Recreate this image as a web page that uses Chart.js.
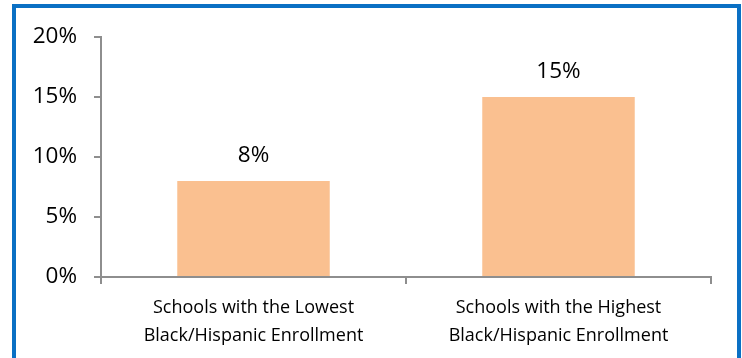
<!DOCTYPE html>
<html>
<head>
<meta charset="utf-8">
<script src="https://cdn.jsdelivr.net/npm/chart.js@4/dist/chart.umd.min.js"></script>
<style>
  html, body { margin: 0; padding: 0; background: #fff; }
  #wrap { position: relative; width: 742px; height: 358px; overflow: hidden; }
  #frame { position: absolute; left: 12px; top: 4px; width: 721px; height: 400px; border: 4px solid #0A70C4; box-sizing: content-box; }
  canvas { position: absolute; left: 0; top: 0; }
</style>
</head>
<body>
<div id="wrap">
  <div id="frame"></div>
  <canvas id="myChart" width="742" height="358"></canvas>
</div>
<script>
const categories = [
  ["Schools with the Lowest", "Black/Hispanic Enrollment"],
  ["Schools with the Highest", "Black/Hispanic Enrollment"]
];
const values = [8, 15];
const yTicks = [0, 5, 10, 15, 20];

const fontFamily = "'Open Sans', 'Noto Sans', sans-serif";

// labels above bars
const barLabels = {
  id: "barLabels",
  afterDatasetsDraw(chart) {
    const ctx = chart.ctx;
    const meta = chart.getDatasetMeta(0);
    ctx.save();
    ctx.font = "22.5px " + fontFamily;
    ctx.fillStyle = "#000";
    ctx.textAlign = "center";
    ctx.textBaseline = "alphabetic";
    meta.data.forEach(function (bar, i) {
      ctx.fillText(values[i] + "%", bar.x, bar.y - 19);
    });
    ctx.restore();
  }
};

const ctx = document.getElementById("myChart").getContext("2d");
const chart = new Chart(ctx, {
  type: "bar",
  data: {
    labels: categories,
    datasets: [{
      data: values,
      backgroundColor: "#FAC090",
      borderWidth: 0,
      barPercentage: 1,
      categoryPercentage: 0.5
    }]
  },
  options: {
    responsive: false,
    animation: false,
    layout: { padding: { left: 0, right: 31, top: 37, bottom: 0 } },
    plugins: { legend: { display: false }, tooltip: { enabled: false } },
    scales: {
      x: {
        offset: true,
        grid: {
          offset: true,
          drawOnChartArea: false,
          drawTicks: true,
          tickLength: 7,
          lineWidth: 2,
          color: "#8E8E8E"
        },
        border: { color: "#8E8E8E", width: 2 },
        ticks: {
          color: "#000",
          padding: 10,
          maxRotation: 0,
          font: { family: fontFamily, size: 18, lineHeight: 1.55 }
        },
        afterFit(scale) { scale.height = 81; }
      },
      y: {
        min: 0,
        max: 20,
        afterBuildTicks(scale) {
          scale.ticks = yTicks.map(v => ({ value: v }));
        },
        grid: {
          drawOnChartArea: false,
          drawTicks: true,
          tickLength: 7,
          lineWidth: 2,
          color: "#8E8E8E"
        },
        border: { color: "#8E8E8E", width: 2 },
        ticks: {
          color: "#000",
          padding: 17,
          callback: v => v + "%",
          font: { family: fontFamily, size: 22.5 }
        },
        afterFit(scale) { scale.width = 101; }
      }
    }
  },
  plugins: [barLabels]
});
</script>
</body>
</html>
